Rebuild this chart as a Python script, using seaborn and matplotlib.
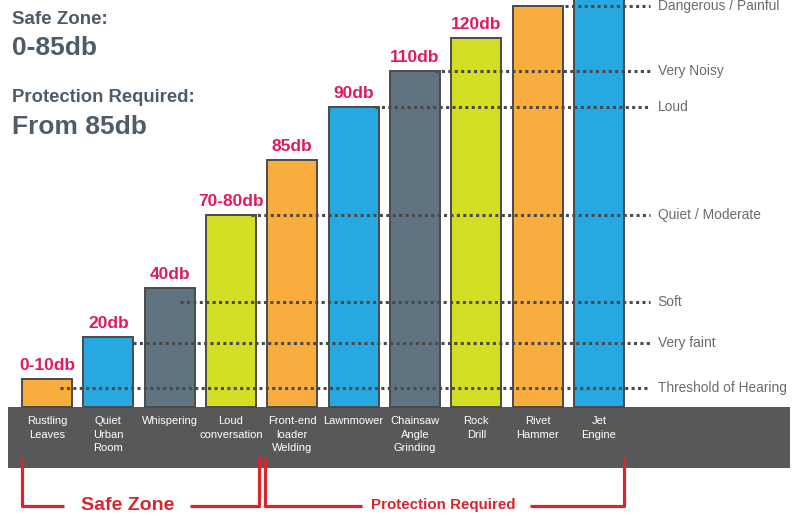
import matplotlib
matplotlib.use("Agg")
import matplotlib.pyplot as plt
from matplotlib.patches import Rectangle
import seaborn as sns
import pandas as pd

# Chart data (bar heights are on the infographic's own scale, baseline = 0)
sources = ["Rustling\nLeaves", "Quiet\nUrban\nRoom", "Whispering", "Loud\nconversation",
           "Front-end\nloader\nWelding", "Lawnmower", "Chainsaw\nAngle\nGrinding",
           "Rock\nDrill", "Rivet\nHammer", "Jet\nEngine"]
db_labels = ["0-10db", "20db", "40db", "70-80db", "85db", "90db", "110db", "120db", "130db", "140db"]
bar_height = [28, 70, 119, 192, 247, 300, 336, 369, 401, 433]
bar_colors = ["#F9AD3E", "#27A8E0", "#5F7480", "#D4DE24", "#F9AD3E",
              "#27A8E0", "#5F7480", "#D4DE24", "#F9AD3E", "#27A8E0"]

levels = ["Dangerous / Painful", "Very Noisy", "Loud", "Quiet / Moderate",
          "Soft", "Very faint", "Threshold of Hearing"]
level_height = [401, 336, 300, 192, 105, 64, 19]
level_start = [8.45, 6.33, 5.35, 3.33, 2.17, 1.40, 0.21]

df = pd.DataFrame({"source": sources, "height": bar_height})

plt.rcParams["font.family"] = ["Liberation Sans", "DejaVu Sans"]

fig = plt.figure(figsize=(7.97, 5.16), dpi=100)
ax = fig.add_axes([0, 0, 1, 1])

bar_w = 0.815
sns.barplot(data=df, x="source", y="height", hue="source", palette=bar_colors,
            legend=False, width=bar_w, edgecolor="#4a4a4a", linewidth=1.4,
            saturation=1, ax=ax, zorder=2)

# dark band holding the category names
ax.add_patch(Rectangle((-0.636, -61), 12.75, 61, facecolor="#58585A",
                       edgecolor="none", zorder=1))

# value labels
for i, (h, lab) in enumerate(zip(bar_height, db_labels)):
    ax.text(i, h + 6, lab, ha="center", va="bottom", fontsize=12.5,
            fontweight="bold", color="#E21A5B", zorder=4)

# category names
for i, s in enumerate(sources):
    ax.text(i, -9, s, ha="center", va="top", fontsize=8.0, color="white",
            linespacing=1.45, zorder=4)

# dotted loudness levels
line_end = 9.83
for name, h, x0 in zip(levels, level_height, level_start):
    ax.plot([x0, line_end], [h, h], color="#4a4a4a", lw=2.2,
            linestyle=(0, (1, 1.1)), zorder=3)
    ax.text(line_end + 0.13, h, name, ha="left", va="center", fontsize=9.9,
            color="#6b6b6b", zorder=4)

# red brackets below the band
red = "#D9252D"
half = bar_w / 2
yb_top, yb = -50, -99
sz_l, sz_r = 0 - half, 3 + half + 0.05
pr_l, pr_r = 4 - half - 0.03, 9 + half
kw = dict(color=red, lw=2.3, solid_capstyle="butt", zorder=5)
ax.plot([sz_l, sz_l, 0.27], [yb_top, yb, yb], **kw)
ax.plot([2.33, sz_r, sz_r], [yb, yb, yb_top], **kw)
ax.plot([pr_l, pr_l, 5.14], [yb_top, yb, yb], **kw)
ax.plot([7.87, pr_r, pr_r], [yb, yb, yb_top], **kw)
ax.text(1.32, yb, "Safe Zone", ha="center", va="center", fontsize=14,
        fontweight="bold", color=red)
ax.text(6.46, yb + 1, "Protection Required", ha="center", va="center",
        fontsize=10.9, fontweight="bold", color=red)

# headline text
head = "#4E5C6A"
fig.text(12 / 797, 1 - 20 / 516, "Safe Zone:", ha="left", va="center",
         fontsize=13.5, fontweight="bold", color=head)
fig.text(12 / 797, 1 - 48 / 516, "0-85db", ha="left", va="center",
         fontsize=19, fontweight="bold", color=head)
fig.text(12 / 797, 1 - 98 / 516, "Protection Required:", ha="left", va="center",
         fontsize=13.3, fontweight="bold", color=head)
fig.text(12 / 797, 1 - 127 / 516, "From 85db", ha="left", va="center",
         fontsize=19, fontweight="bold", color=head)

ax.set_xlim(-0.766, 12.23)
ax.set_ylim(-109, 407)
ax.axis("off")

fig.savefig("out.png", dpi=100, facecolor="white")
